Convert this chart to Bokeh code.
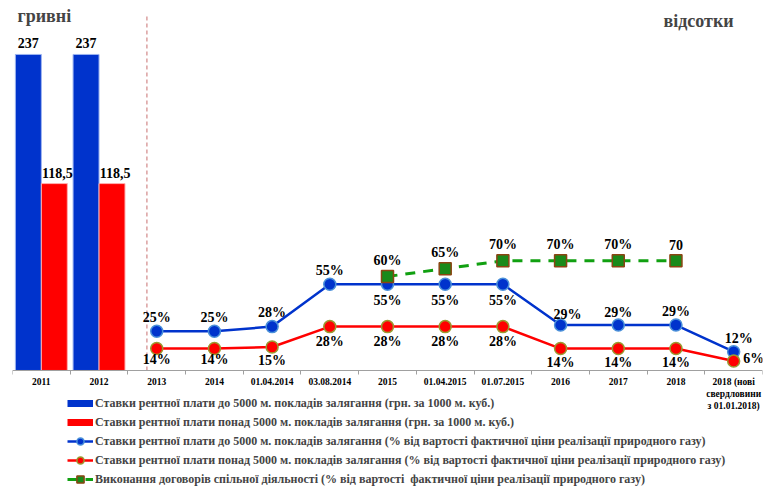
import numpy as np
from bokeh.plotting import figure
from bokeh.models import (ColumnDataSource, Range1d, LinearAxis, FixedTicker, Legend,
                          LegendItem, Label)
from bokeh.core.properties import value
from bokeh.transform import dodge
from bokeh.embed import file_html
from bokeh.resources import INLINE

# ---------------- data ----------------
categories = ["2011", "2012", "2013", "2014", "01.04.2014", "03.08.2014", "2015",
              "01.04.2015", "01.07.2015", "2016", "2017", "2018",
              "2018 (нові\nсвердловини\nз 01.01.2018)"]

bar_categories = ["2011", "2012"]
bar_low_uah = [237, 237]
bar_high_uah = [118.5, 118.5]
bar_low_labels = ["237", "237"]
bar_high_labels = ["118,5", "118,5"]

pct_categories = categories[2:]
pct_low = [25, 25, 28, 55, 55, 55, 55, 29, 29, 29, 12]
pct_high = [14, 14, 15, 28, 28, 28, 28, 14, 14, 14, 6]
pct_low_labels = ["25%", "25%", "28%", "55%", "55%", "55%", "55%", "29%", "29%", "29%", "12%"]
pct_high_labels = ["14%", "14%", "15%", "28%", "28%", "28%", "28%", "14%", "14%", "14%", "6%"]

jv_categories = ["2015", "01.04.2015", "01.07.2015", "2016", "2017", "2018"]
jv_pct = [60, 65, 70, 70, 70, 70]
jv_labels = ["60%", "65%", "70%", "70%", "70%", "70"]

legend_labels = [
    "Ставки рентної плати до 5000 м. покладів залягання (грн. за 1000 м. куб.)",
    "Ставки рентної плати понад 5000 м. покладів залягання (грн. за 1000 м. куб.)",
    "Ставки рентної плати до 5000 м. покладів залягання (% від вартості фактичної ціни реалізації природного газу)",
    "Ставки рентної плати понад 5000 м. покладів залягання (% від вартості фактичної ціни реалізації природного газу)",
    "Виконання договорів спільної діяльності (% від вартості  фактичної ціни реалізації природного газу)",
]

# label placement (styles, screen px)
low_dx = [0, 0, 0, 0, 0, 0, 0, 7, 0, 0, 5]
low_dy = [-14, -14, -14, -14, 16, 16, 16, -11, -13, -14, -13]
high_dx = [0, 0, 0, 0, 0, 0, 0, 0, 0, 0, 20]
high_dy = [11, 11, 14, 15, 15, 15, 15, 14, 14, 14, -3]

# ---------------- styles ----------------
pos = {c: i + 0.5 for i, c in enumerate(categories)}
FONT = value("Liberation Serif")
BLUE = "#0033cc"
RED = "#ff0000"
GREEN = "#11a011"
UAH_AXIS_MIN = -53          # origin of the hryvnia scale (bars start at the axis)
SEPARATOR_X = 2.33

p = figure(width=776, height=488, x_range=Range1d(0, len(categories)),
           y_range=Range1d(-75.3, 236.1), output_backend="svg", toolbar_location=None,
           x_axis_location=None, y_axis_location=None,
           min_border_left=12, min_border_right=14, min_border_top=0, min_border_bottom=0,
           outline_line_color=None, background_fill_color="white")
p.grid.visible = False
p.extra_y_ranges = {"uah": Range1d(-161.3, 286.5)}

# x axis with ticks at category boundaries, fixed at 0 %
centers = [pos[c] for c in categories]
bounds = list(range(len(categories) + 1))
xaxis = LinearAxis(ticker=FixedTicker(ticks=centers, minor_ticks=bounds), fixed_location=0,
                   major_label_overrides={pos[c]: c for c in categories},
                   major_tick_line_color=None, major_tick_out=0, major_tick_in=0,
                   minor_tick_in=0, minor_tick_out=4, minor_tick_line_color="#a0a0a0",
                   axis_line_color="#a0a0a0", major_label_standoff=3,
                   major_label_text_font="Liberation Serif", major_label_text_font_style="bold",
                   major_label_text_font_size="9.5px", major_label_text_color="black")
p.add_layout(xaxis, "below")

# separator between hryvnia and percent parts
p.segment(x0=[SEPARATOR_X], y0=[0], x1=[SEPARATOR_X], y1=[226], line_color="#c87070",
          line_dash="4 3", line_width=1)

# bars
bsrc = ColumnDataSource(dict(x=[pos[c] for c in bar_categories], low=bar_low_uah,
                             high=bar_high_uah, ll=bar_low_labels, hl=bar_high_labels))
p.vbar(x=dodge("x", -0.225), top="low", bottom=UAH_AXIS_MIN, width=0.45, source=bsrc,
       fill_color=BLUE, line_color="#9db4f0", line_width=1, y_range_name="uah")
p.vbar(x=dodge("x", 0.225), top="high", bottom=UAH_AXIS_MIN, width=0.45, source=bsrc,
       fill_color=RED, line_color="#ffb0b0", line_width=1, y_range_name="uah")
p.text(x=dodge("x", -0.225), y="low", text="ll", source=bsrc, y_offset=-11,
       text_font=FONT, text_font_style="bold", text_font_size=value("14px"),
       text_align="center", text_baseline="middle", y_range_name="uah")
p.text(x=dodge("x", 0.225), y="high", text="hl", source=bsrc, y_offset=-11, x_offset=3,
       text_font=FONT, text_font_style="bold", text_font_size=value("14px"),
       text_align="center", text_baseline="middle", y_range_name="uah")

# legend keys for the bars (hidden thick lines on the bar data)
pb = p.line("x", "low", source=bsrc, line_color=BLUE, line_width=7, y_range_name="uah",
            visible=False)
pr = p.line("x", "high", source=bsrc, line_color=RED, line_width=7, y_range_name="uah",
            visible=False)

# percent lines
psrc = ColumnDataSource(dict(x=[pos[c] for c in pct_categories], low=pct_low, high=pct_high,
                             ll=pct_low_labels, hl=pct_high_labels,
                             ldx=low_dx, ldy=low_dy, hdx=high_dx, hdy=high_dy))
jsrc = ColumnDataSource(dict(x=[pos[c] for c in jv_categories], y=jv_pct, lab=jv_labels))

bl = p.line("x", "low", source=psrc, line_color=BLUE, line_width=2.5)
bm = p.scatter("x", "low", source=psrc, marker="circle", size=12,
               fill_color=BLUE, line_color="#4a90d9", line_width=1.5)
rl = p.line("x", "high", source=psrc, line_color=RED, line_width=2.5)
rm = p.scatter("x", "high", source=psrc, marker="circle", size=12,
               fill_color=RED, line_color="#9a9a30", line_width=1.5)
gl = p.line("x", "y", source=jsrc, line_color=GREEN, line_width=3, line_dash="10 8")
gm = p.scatter("x", "y", source=jsrc, marker="square", size=12,
               fill_color="#1a8a1a", line_color="#8b4513", line_width=1.5)

p.text(x="x", y="low", text="ll", x_offset="ldx", y_offset="ldy", source=psrc,
       text_font=FONT, text_font_style="bold", text_font_size=value("14px"),
       text_align="center", text_baseline="middle")
p.text(x="x", y="high", text="hl", x_offset="hdx", y_offset="hdy", source=psrc,
       text_font=FONT, text_font_style="bold", text_font_size=value("14px"),
       text_align="center", text_baseline="middle")
p.text(x="x", y="y", text="lab", y_offset=-16, source=jsrc,
       text_font=FONT, text_font_style="bold", text_font_size=value("14px"),
       text_align="center", text_baseline="middle")

# unit titles
p.add_layout(Label(x=5, y=473, x_units="screen", y_units="screen", text="гривні",
                   text_font="Liberation Serif", text_font_style="bold",
                   text_font_size="18px", text_baseline="middle"))
p.add_layout(Label(x=651, y=468, x_units="screen", y_units="screen", text="відсотки",
                   text_font="Liberation Serif", text_font_style="bold",
                   text_font_size="18px", text_baseline="middle"))

legend = Legend(items=[
    LegendItem(label=legend_labels[0], renderers=[pb]),
    LegendItem(label=legend_labels[1], renderers=[pr]),
    LegendItem(label=legend_labels[2], renderers=[bl, bm]),
    LegendItem(label=legend_labels[3], renderers=[rl, rm]),
    LegendItem(label=legend_labels[4], renderers=[gl, gm]),
], location=(55, 0), orientation="vertical", glyph_width=26, glyph_height=18,
    label_height=18, spacing=1, padding=0, margin=0, label_standoff=2,
    label_text_font="Liberation Serif", label_text_font_style="bold",
    label_text_font_size="12px", border_line_color=None, background_fill_alpha=0,
    inactive_fill_alpha=0)
p.add_layout(legend)

open("out.html", "w").write(file_html(p, INLINE))
